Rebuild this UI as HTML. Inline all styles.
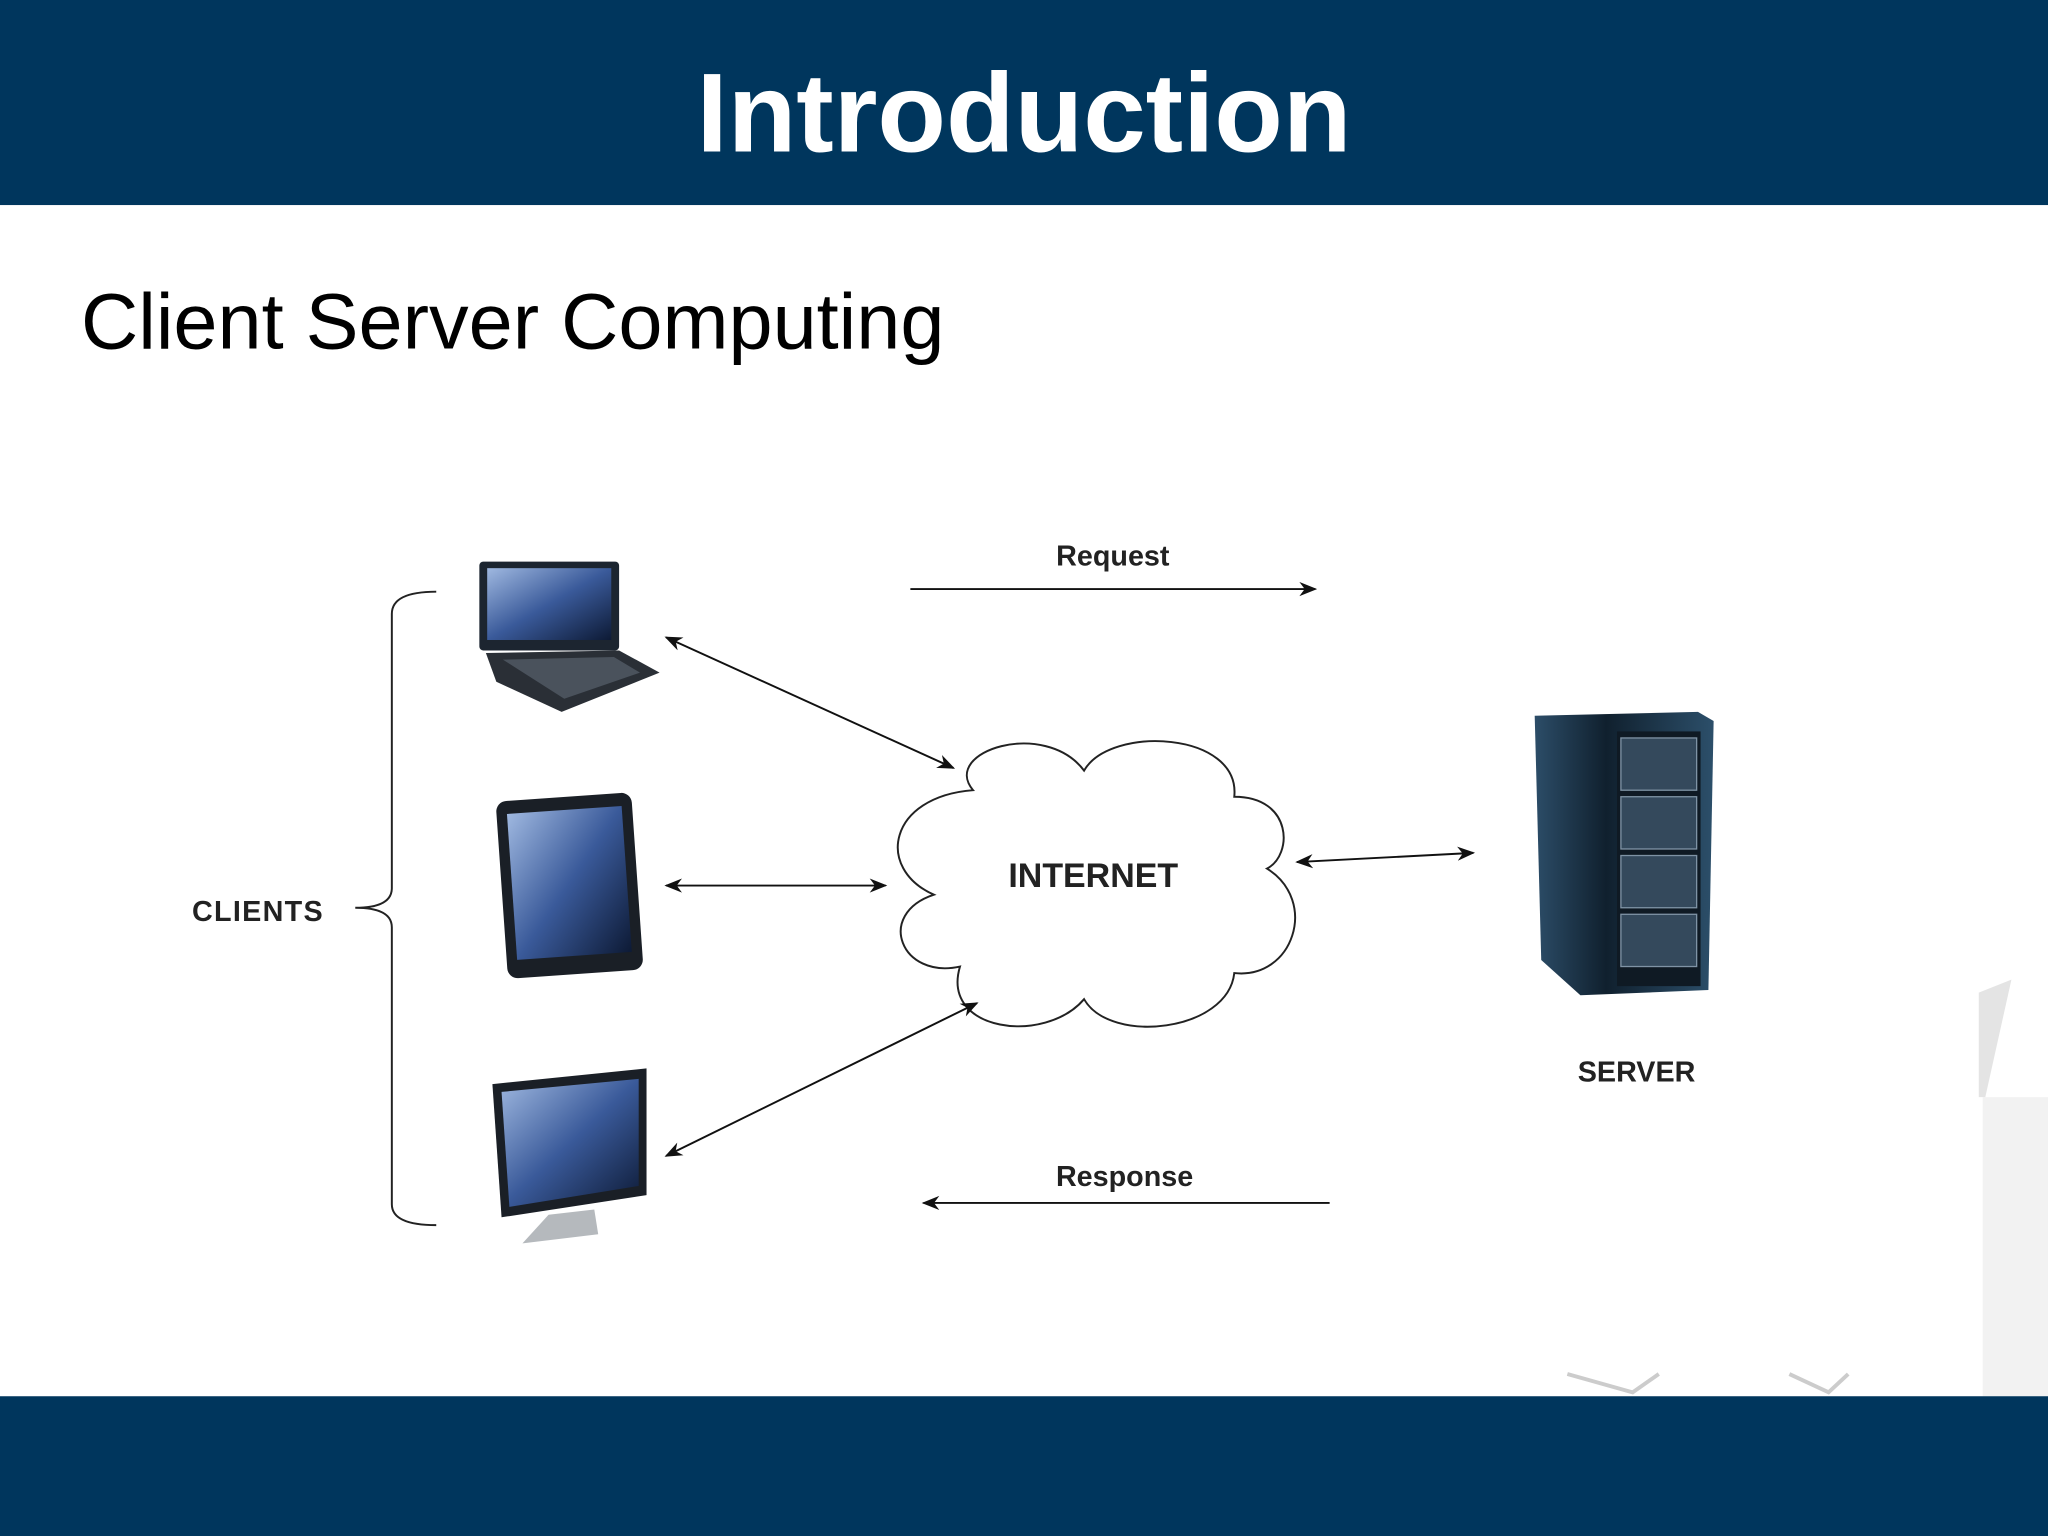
<!DOCTYPE html>
<html><head><meta charset="utf-8"><style>html,body{margin:0;padding:0;background:#fff}svg{display:block}</style></head>
<body>
<svg width="2048" height="1536" viewBox="0 0 1568 1176" xmlns="http://www.w3.org/2000/svg">
<defs>
<linearGradient id="scr" x1="0" y1="0" x2="1" y2="1"><stop offset="0" stop-color="#9fb8e0"/><stop offset="0.5" stop-color="#3a5a9a"/><stop offset="1" stop-color="#0d1a35"/></linearGradient>
<linearGradient id="srv" x1="0" y1="0" x2="1" y2="0"><stop offset="0" stop-color="#2c4d68"/><stop offset="0.4" stop-color="#10202e"/><stop offset="1" stop-color="#2c4f6a"/></linearGradient>
<marker id="ah" viewBox="0 0 10 10" refX="9" refY="5" markerWidth="9" markerHeight="9" orient="auto-start-reverse"><path d="M0,1 L10,5 L0,9 L3,5 z" fill="#111"/></marker>
</defs>
<rect width="1568" height="1176" fill="#fff"/>
<path d="M1515,760 L1540,750 L1520,840 L1515,840 z" fill="#e4e4e4"/>
<rect x="1518" y="840" width="50" height="229" fill="#f2f2f2"/>
<path d="M1200,1052 L1250,1066 L1270,1052 M1370,1052 L1400,1066 L1415,1052" stroke="#ccc" stroke-width="3" fill="none"/>
<rect x="0" y="0" width="1568" height="157" fill="#00365d"/>
<rect x="0" y="1069" width="1568" height="107" fill="#00365d"/>
<text x="784" y="116" text-anchor="middle" font-family="Liberation Sans, sans-serif" font-weight="bold" font-size="86" fill="#fff">Introduction</text>
<text x="62" y="267" font-family="Liberation Sans, sans-serif" font-size="60.7" fill="#000">Client Server Computing</text>

<path d="M334,453 Q300,453 300,470 L300,680 Q300,695 272,695 Q300,695 300,710 L300,922 Q300,938 334,938" fill="none" stroke="#222" stroke-width="1.5"/>
<text x="147" y="705" font-family="Liberation Sans, sans-serif" font-weight="bold" font-size="22" letter-spacing="1" fill="#222">CLIENTS</text>

<rect x="367" y="430" width="107" height="68" rx="3" fill="#1c2530"/>
<rect x="373" y="435" width="95" height="55" fill="url(#scr)"/>
<path d="M372,500 L474,498 L505,515 L430,545 L380,522 z" fill="#2a2f36"/>
<path d="M385,505 L470,503 L490,515 L432,535 z" fill="#4a525c"/>
<g transform="rotate(-4 436 677)">
<rect x="384" y="610" width="104" height="136" rx="8" fill="#1a1f26"/>
<rect x="392" y="620" width="88" height="112" fill="url(#scr)"/>
</g>
<path d="M377,830 L495,818 L495,915 L384,932 z" fill="#1a1f26"/>
<path d="M384,836 L489,826 L489,908 L390,924 z" fill="url(#scr)"/>
<path d="M420,930 L455,926 L458,945 L400,952 z" fill="#b5b9bd"/>

<path d="M745,605 C720,575 800,550 830,590 C850,555 950,560 945,610 C990,610 990,655 970,665 C1010,690 990,750 945,745 C940,790 850,800 830,765 C800,800 720,790 735,740 C690,750 670,700 715,685 C670,665 680,610 745,605 z" fill="#fff" stroke="#222" stroke-width="1.5"/>
<text x="837" y="679" text-anchor="middle" font-family="Liberation Sans, sans-serif" font-weight="bold" font-size="26" fill="#222">INTERNET</text>

<g stroke="#111" stroke-width="1.5" fill="none">
<line x1="510" y1="488" x2="730" y2="588" marker-start="url(#ah)" marker-end="url(#ah)"/>
<line x1="510" y1="678" x2="678" y2="678" marker-start="url(#ah)" marker-end="url(#ah)"/>
<line x1="510" y1="885" x2="748" y2="768" marker-start="url(#ah)" marker-end="url(#ah)"/>
<line x1="993" y1="660" x2="1128" y2="653" marker-start="url(#ah)" marker-end="url(#ah)"/>
<line x1="697" y1="451" x2="1007" y2="451" marker-end="url(#ah)"/>
<line x1="1018" y1="921" x2="707" y2="921" marker-end="url(#ah)"/>
</g>
<text x="852" y="433" text-anchor="middle" font-family="Liberation Sans, sans-serif" font-weight="bold" font-size="22" fill="#222">Request</text>
<text x="861" y="908" text-anchor="middle" font-family="Liberation Sans, sans-serif" font-weight="bold" font-size="22" fill="#222">Response</text>

<path d="M1175,548 L1300,545 L1312,552 L1308,758 L1210,762 L1180,735 z" fill="url(#srv)"/>
<rect x="1238" y="560" width="64" height="195" fill="#0f1a24"/>
<g fill="#34495c" stroke="#7f93a5" stroke-width="1">
<rect x="1241" y="565" width="58" height="40"/>
<rect x="1241" y="610" width="58" height="40"/>
<rect x="1241" y="655" width="58" height="40"/>
<rect x="1241" y="700" width="58" height="40"/>
</g>
<text x="1253" y="828" text-anchor="middle" font-family="Liberation Sans, sans-serif" font-weight="bold" font-size="22" fill="#222">SERVER</text>
</svg>
</body></html>
